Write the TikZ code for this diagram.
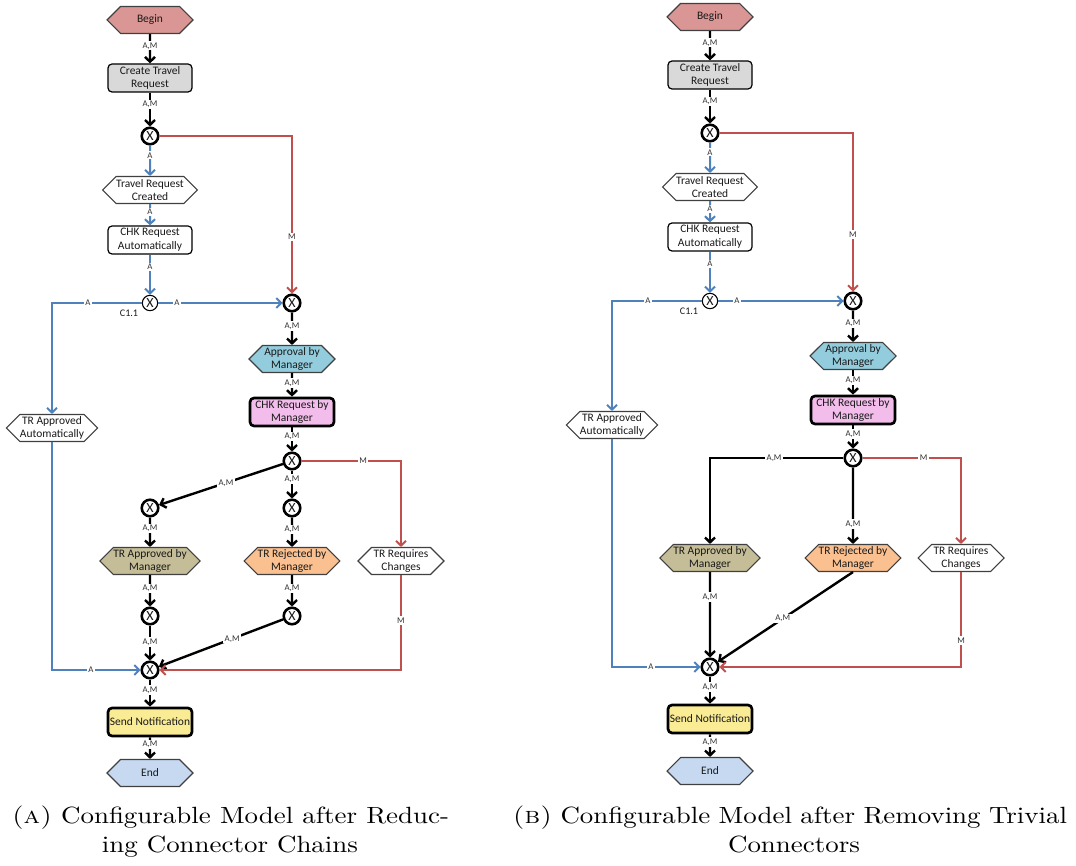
\documentclass[tikz,border=0pt]{standalone}
\usepackage{fontspec}
\newfontfamily\carl{Carlito}
\usetikzlibrary{arrows.meta,shapes.symbols}

\definecolor{beginred}{HTML}{D99694}
\definecolor{greyfill}{HTML}{D9D9D9}
\definecolor{approvalblue}{HTML}{93CDDD}
\definecolor{chkpink}{HTML}{F2BCEB}
\definecolor{khaki}{HTML}{C4BD97}
\definecolor{rejorange}{HTML}{FAC090}
\definecolor{notifyellow}{HTML}{FAEB95}
\definecolor{endblue}{HTML}{C6D9F1}
\definecolor{redline}{HTML}{C0504D}
\definecolor{blueline}{HTML}{4F81BD}
\definecolor{hexline}{HTML}{404040}
\definecolor{lblgray}{HTML}{333333}
\definecolor{txt}{HTML}{1A1A1A}

% caption line: 10pt glyphs, widened to the column width
\newcommand{\capline}[2]{\scalebox{2.02}[1.76]{\fontsize{10}{12}\selectfont\makebox[#1][s]{#2}}}

\tikzset{
  hexa/.style={signal, signal to=east and west, signal pointer angle=90,
    draw=hexline, line width=0.8pt, minimum width=64.5pt, minimum height=20.25pt,
    inner sep=0pt, align=center, text=txt, font=\carl\fontsize{8.6}{10}\selectfont},
  box/.style={draw=black, rounded corners=3pt, minimum width=63pt, minimum height=21pt,
    inner sep=0pt, line width=0.9pt, align=center, text=txt,
    font=\carl\fontsize{8.6}{10.2}\selectfont},
  boxthick/.style={box, line width=2pt},
  xor/.style={circle, draw=black, fill=white, line width=1.9pt, minimum size=12.4pt,
    inner sep=0pt, text=txt, font=\carl\fontsize{10.5}{10.5}\selectfont},
  xorthin/.style={xor, line width=0.8pt, minimum size=11.5pt},
  cname/.style={inner sep=0pt, text=txt, font=\carl\fontsize{7.6}{8}\selectfont},
  flow/.style={draw=black, line width=1.8pt, -{Straight Barb[length=3.6pt,width=7.5pt]}},
  aflow/.style={flow, draw=blueline, line width=1.5pt},
  mflow/.style={flow, draw=redline, line width=1.5pt},
  lbl/.style={fill=white, inner sep=1pt, text=lblgray, font=\carl\fontsize{6.6}{7}\selectfont},
  captext/.style={anchor=base, inner sep=0pt}
}

\begin{document}
\begin{tikzpicture}[x=0.75pt,y=-0.75pt]
\useasboundingbox (0,0) rectangle (1076,866);

% ---------- (a) after reducing connector chains ----------
\node[hexa, fill=beginred] (a-begin) at (150,20) {Begin};
\node[box, fill=greyfill] (a-create) at (150,78) {Create Travel\\Request};
\node[xor] (a-x1) at (150,136) {X};
\node[hexa, fill=white] (a-trc) at (150,190) {Travel Request\\Created};
\node[box, fill=white] (a-chka) at (150,240) {CHK Request\\Automatically};
\node[xorthin] (a-c11) at (150,303) {X};
\node[cname] (a-c11name) at (129,313) {C1.1};
\node[xor] (a-x2) at (292,303) {X};
\node[hexa, fill=approvalblue] (a-appr) at (292,359) {Approval by\\Manager};
\node[boxthick, fill=chkpink] (a-chkm) at (292,412) {CHK Request by\\Manager};
\node[xor] (a-x3) at (292,461) {X};
\node[xor] (a-x4) at (150,508) {X};
\node[xor] (a-x5) at (292,508) {X};
\node[hexa, fill=white] (a-traa) at (52,428) {TR Approved\\Automatically};
\node[hexa, fill=khaki] (a-tram) at (150,561) {TR Approved by\\Manager};
\node[hexa, fill=rejorange] (a-trrm) at (292,561) {TR Rejected by\\Manager};
\node[hexa, fill=white] (a-trrc) at (401,561) {TR Requires\\Changes};
\node[xor] (a-x6) at (150,616) {X};
\node[xor] (a-x7) at (292,616) {X};
\node[xor] (a-xf) at (150,670) {X};
\node[boxthick, fill=notifyellow] (a-send) at (150,722) {Send Notification};
\node[hexa, fill=endblue] (a-end) at (150,773) {End};

\draw[flow] (a-begin) -- node[lbl,pos=.4]{A,M} (a-create);
\draw[flow] (a-create) -- node[lbl,pos=.35]{A,M} (a-x1);
\draw[aflow] (a-x1) -- node[lbl,pos=.32]{A} (a-trc);
\draw[aflow] (a-trc) -- node[lbl,pos=.38]{A} (a-chka);
\draw[aflow] (a-chka) -- node[lbl,pos=.3]{A} (a-c11);
\draw[mflow] (a-x1) -| node[lbl,pos=.82]{M} (a-x2);
\draw[aflow] (a-c11) -- node[lbl,pos=.15]{A} (a-x2);
\draw[aflow] (a-c11) -| node[lbl,pos=.3]{A} (a-traa);
\draw[flow] (a-x2) -- node[lbl,pos=.42]{A,M} (a-appr);
\draw[flow] (a-appr) -- node[lbl,pos=.42]{A,M} (a-chkm);
\draw[flow] (a-chkm) -- node[lbl,pos=.38]{A,M} (a-x3);
\draw[flow] (a-x3) -- node[lbl,pos=.46]{A,M} (a-x4);
\draw[flow] (a-x3) -- node[lbl,pos=.3]{A,M} (a-x5);
\draw[mflow] (a-x3) -| node[lbl,pos=.31]{M} (a-trrc);
\draw[flow] (a-x4) -- node[lbl,pos=.37]{A,M} (a-tram);
\draw[flow] (a-x5) -- node[lbl,pos=.4]{A,M} (a-trrm);
\draw[flow] (a-tram) -- node[lbl,pos=.42]{A,M} (a-x6);
\draw[flow] (a-trrm) -- node[lbl,pos=.42]{A,M} (a-x7);
\draw[flow] (a-x6) -- node[lbl,pos=.47]{A,M} (a-xf);
\draw[flow] (a-x7) -- node[lbl,pos=.41]{A,M} (a-xf);
\draw[aflow] (a-traa) |- node[lbl,pos=.72]{A} (a-xf);
\draw[mflow] (a-trrc) |- node[lbl,pos=.24]{M} (a-xf);
\draw[flow] (a-xf) -- node[lbl,pos=.39]{A,M} (a-send);
\draw[flow] (a-send) -- node[lbl,pos=.33]{A,M} (a-end);

% ---------- (b) after removing trivial connectors ----------
\node[hexa, fill=beginred] (b-begin) at (710,17) {Begin};
\node[box, fill=greyfill] (b-create) at (710,75) {Create Travel\\Request};
\node[xor] (b-x1) at (710,133) {X};
\node[hexa, fill=white] (b-trc) at (710,187) {Travel Request\\Created};
\node[box, fill=white] (b-chka) at (710,237) {CHK Request\\Automatically};
\node[xorthin] (b-c11) at (710,301) {X};
\node[cname] (b-c11name) at (689,311) {C1.1};
\node[xor] (b-x2) at (853,301) {X};
\node[hexa, fill=approvalblue] (b-appr) at (853,356) {Approval by\\Manager};
\node[boxthick, fill=chkpink] (b-chkm) at (853,410) {CHK Request by\\Manager};
\node[xor] (b-x3) at (853,458) {X};
\node[hexa, fill=white] (b-traa) at (612,425) {TR Approved\\Automatically};
\node[hexa, fill=khaki] (b-tram) at (710,558) {TR Approved by\\Manager};
\node[hexa, fill=rejorange] (b-trrm) at (853,558) {TR Rejected by\\Manager};
\node[hexa, fill=white] (b-trrc) at (961,558) {TR Requires\\Changes};
\node[xor] (b-xf) at (710,667) {X};
\node[boxthick, fill=notifyellow] (b-send) at (710,719) {Send Notification};
\node[hexa, fill=endblue] (b-end) at (710,771) {End};

\draw[flow] (b-begin) -- node[lbl,pos=.4]{A,M} (b-create);
\draw[flow] (b-create) -- node[lbl,pos=.35]{A,M} (b-x1);
\draw[aflow] (b-x1) -- node[lbl,pos=.32]{A} (b-trc);
\draw[aflow] (b-trc) -- node[lbl,pos=.38]{A} (b-chka);
\draw[aflow] (b-chka) -- node[lbl,pos=.3]{A} (b-c11);
\draw[mflow] (b-x1) -| node[lbl,pos=.82]{M} (b-x2);
\draw[aflow] (b-c11) -- node[lbl,pos=.15]{A} (b-x2);
\draw[aflow] (b-c11) -| node[lbl,pos=.3]{A} (b-traa);
\draw[flow] (b-x2) -- node[lbl,pos=.42]{A,M} (b-appr);
\draw[flow] (b-appr) -- node[lbl,pos=.42]{A,M} (b-chkm);
\draw[flow] (b-chkm) -- node[lbl,pos=.38]{A,M} (b-x3);
\draw[flow] (b-x3) -| node[lbl,pos=.26]{A,M} (b-tram);
\draw[flow] (b-x3) -- node[lbl,pos=.74]{A,M} (b-trrm);
\draw[mflow] (b-x3) -| node[lbl,pos=.31]{M} (b-trrc);
\draw[flow] (b-tram) -- node[lbl,pos=.29]{A,M} (b-xf);
\draw[flow] (b-trrm.south) -- node[lbl,pos=.52]{A,M} (b-xf);
\draw[aflow] (b-traa) |- node[lbl,pos=.72]{A} (b-xf);
\draw[mflow] (b-trrc) |- node[lbl,pos=.36]{M} (b-xf);
\draw[flow] (b-xf) -- node[lbl,pos=.39]{A,M} (b-send);
\draw[flow] (b-send) -- node[lbl,pos=.33]{A,M} (b-end);

% ---------- captions ----------
\node[captext] (capa1) at (230.5,823) {\capline{162.25pt}{\textsc{(a)} Configurable Model after Reduc-}};
\node[captext] (capa2) at (230,852) {\capline{106pt}{\hfil ing Connector Chains\hfil}};
\node[captext] (capb1) at (790,823) {\capline{205.7pt}{\textsc{(b)} Configurable Model after Removing Trivial}};
\node[captext] (capb2) at (794,852) {\capline{60pt}{\hfil Connectors\hfil}};
\end{tikzpicture}
\end{document}
